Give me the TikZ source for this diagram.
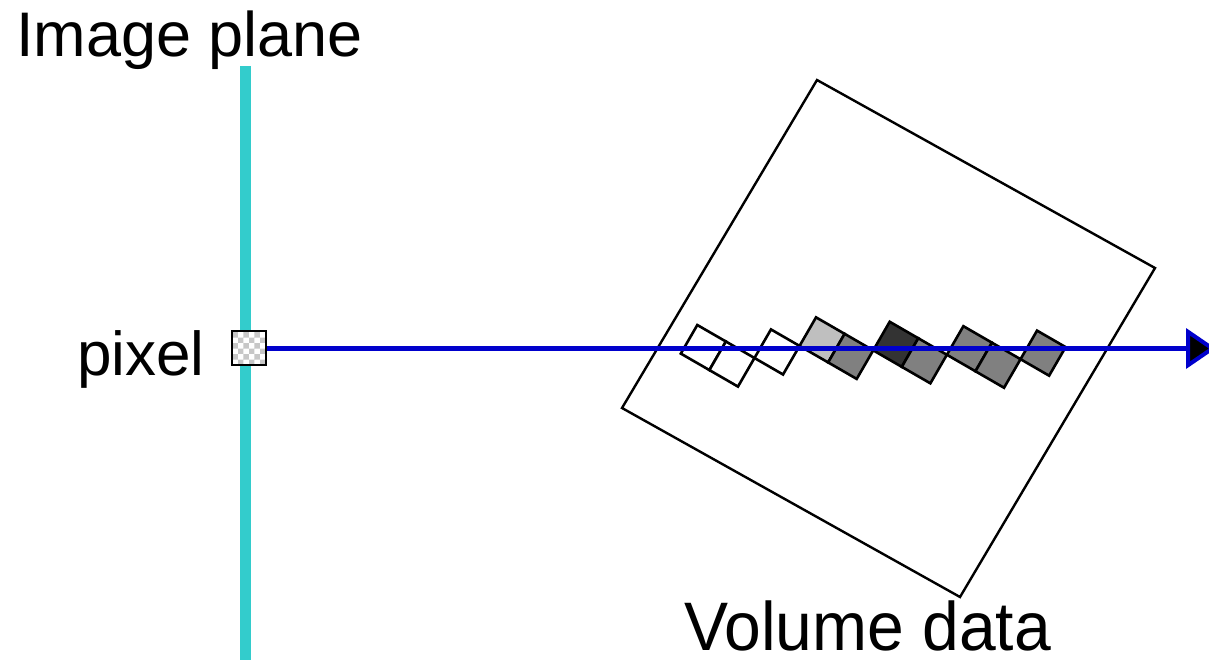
\documentclass[tikz,border=0pt]{standalone}
\usepackage{fontspec}
\usepackage{graphicx}
\setmainfont{Liberation Sans}
\usetikzlibrary{arrows.meta,patterns}
\definecolor{planecyan}{RGB}{51,204,204}
\definecolor{raysblue}{RGB}{0,0,204}
\begin{document}
\begin{tikzpicture}[x=1pt,y=-1pt,
  lbl/.style={inner sep=0pt, anchor=base west},
  voxel/.style={draw=black, line width=2.6pt, line join=miter},
  volbox/.style={draw=black, line width=2.4pt, line join=miter},
  ray/.style={draw=raysblue, line width=5.5pt,
    -{Triangle[length=30pt,width=40pt,fill=black,line width=4pt]}}]
\useasboundingbox (0,0) rectangle (1209,660);
% image plane
\coordinate (pt) at (245.5,66);
\coordinate (pb) at (245.5,665);
\draw[planecyan, line width=11pt] (pt) -- (pb);
\node[lbl] (iplab) at (16,57) {\fontsize{63}{70}\selectfont Image plane};
% volume box
\coordinate (vt) at (817,80);
\coordinate (vr) at (1155,268);
\coordinate (vb) at (960,597);
\coordinate (vl) at (622,408);
\draw[volbox] (vt) -- (vr) -- (vb) -- (vl) -- cycle;
\node[lbl] (vlab) at (684,650) {\scalebox{1}[1.04]{\fontsize{66}{72}\selectfont Volume data}};
% voxels along the ray
\foreach \a/\b/\c in {0/0/white,1/0/white,2/-1/white,3/-2/black!25,4/-2/black!50,5/-3/black!80,6/-3/black!50,7/-4/black!50,8/-4/black!50,9/-5/black!50}{
  \draw[voxel, fill=\c]
    ({697.3+\a*28.58-\b*16.5},{325+\a*16.5+\b*28.58}) --
    ({697.3+(\a+1)*28.58-\b*16.5},{325+(\a+1)*16.5+\b*28.58}) --
    ({697.3+(\a+1)*28.58-(\b+1)*16.5},{325+(\a+1)*16.5+(\b+1)*28.58}) --
    ({697.3+\a*28.58-(\b+1)*16.5},{325+\a*16.5+(\b+1)*28.58}) -- cycle;
}
% pixel
\node[draw=black, line width=2pt, minimum size=34pt, inner sep=0pt,
      preaction={fill=white}, pattern=checkerboard, pattern color=black!22] (pix) at (249,348) {};
\node[inner sep=0pt, anchor=base east] (pixlab) at (205,375) {\fontsize{62}{70}\selectfont pixel};
% ray
\coordinate (rayend) at (1216,348.5);
\draw[ray] (pix.east |- 0,348.5) -- (rayend);
\end{tikzpicture}
\end{document}
